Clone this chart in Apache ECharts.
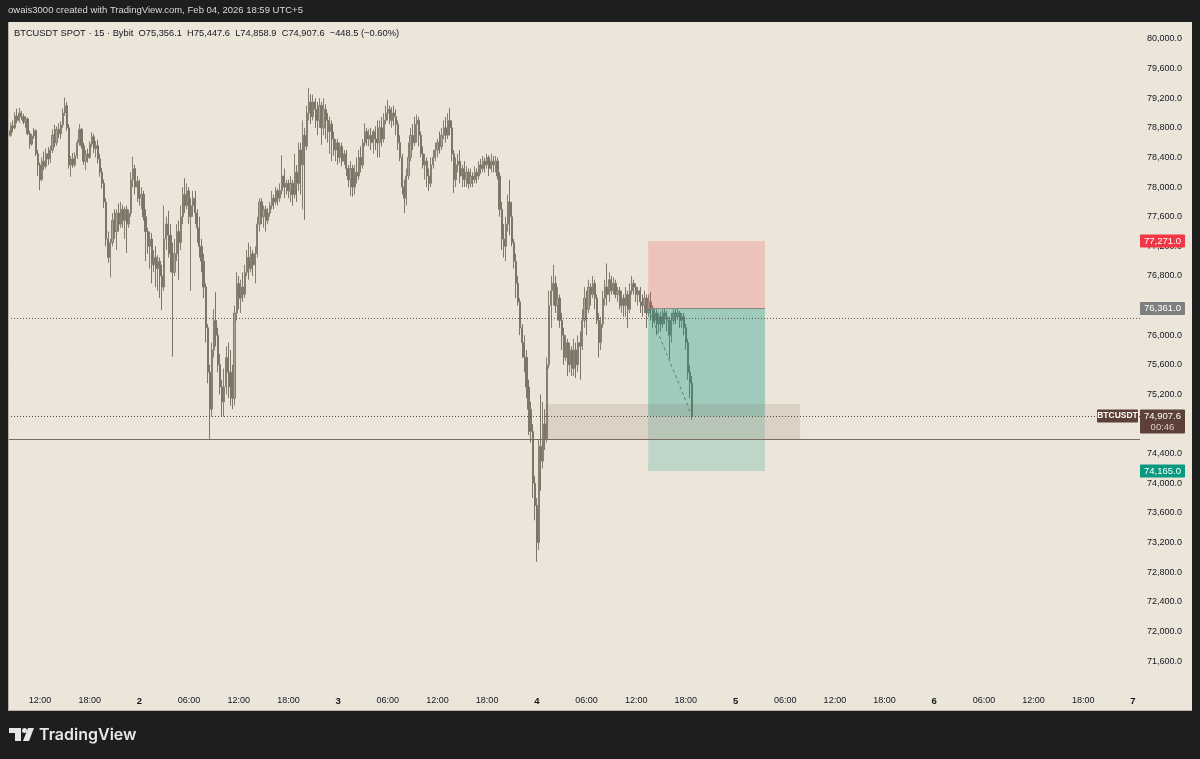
<!DOCTYPE html>
<html><head><meta charset="utf-8">
<script src="https://cdn.jsdelivr.net/npm/echarts@6/dist/echarts.min.js"></script>
<style>html,body{margin:0;padding:0;background:#1e1e1e;}#c{width:1200px;height:759px;}</style>
</head><body><div id="c"></div>
<script>
// ---------- data ----------
const headerText = 'owais3000 created with TradingView.com, Feb 04, 2026 18:59 UTC+5';
const symbolText = 'BTCUSDT SPOT · 15 · Bybit';
const firstBarHour = 8.25;   // hours since Feb 1 00:00 (UTC+5)
const barHours = 0.25;       // 15-minute candles
// [open, close, low, high]
const ohlc = [
[78760,78700,78640,78800],[78700,78830,78680,78870],[78830,78800,78740,78900],[78800,78960,78780,79010],
[78960,78900,78860,79060],[78900,79000,78870,79070],[79000,78950,78910,79030],[78950,78880,78850,78990],
[78880,78920,78800,78960],[78920,78720,78700,78940],[78720,78580,78520,78760],[78580,78690,78560,78720],
[78690,78760,78650,78800],[78760,78450,78420,78780],[78450,78300,78150,78500],[78300,78100,77960,78330],
[78100,78350,78080,78400],[78350,78280,78230,78480],[78280,78450,78250,78520],[78450,78380,78300,78540],
[78380,78500,78330,78560],[78500,78700,78460,78780],[78700,78600,78540,78840],[78600,78780,78560,78820],
[78780,78720,78660,78860],[78720,78840,78650,78890],[78840,79000,78800,79060],[79000,79100,78960,79210],
[79100,78800,78760,79150],[78800,78300,78250,78850],[78300,78380,78140,78420],[78380,78300,78260,78460],
[78300,78420,78270,78470],[78420,78600,78380,78640],[78600,78780,78560,78850],[78780,78560,78520,78800],
[78560,78350,78300,78600],[78350,78450,78230,78500],[78450,78400,78330,78520],[78400,78580,78380,78620],
[78580,78680,78540,78740],[78680,78520,78460,78720],[78520,78560,78400,78620],[78560,78380,78320,78640],
[78380,78200,78140,78450],[78200,78050,77980,78260],[78050,77800,77720,78100],[77800,77300,77200,77850],
[77300,77050,76980,77400],[77050,77250,76780,77300],[77250,77550,77200,77650],[77550,77400,77300,77700],
[77400,77650,77150,77700],[77650,77500,77400,77780],[77500,77700,77450,77800],[77700,77550,77450,77760],
[77550,77700,77300,77730],[77700,77500,77110,77750],[77500,77650,77450,77700],[77650,78100,77600,78200],
[78100,78250,78000,78410],[78250,78000,77900,78300],[78000,78080,77800,78150],[78080,77850,77750,78100],
[77850,77900,77700,78000],[77900,77600,77550,77950],[77600,77400,77000,77700],[77400,77200,77100,77450],
[77200,77300,76900,77400],[77300,76950,76700,77380],[76950,77050,76850,77150],[77050,76900,76650,77200],
[76900,77000,76600,77080],[77000,76800,76500,77050],[76800,76650,76340,76950],[76650,77300,76600,77750],
[77300,77500,77150,77600],[77500,77350,77050,77680],[77350,77100,76850,77500],[77100,76850,75710,77250],
[76850,77100,76800,77300],[77100,77400,77000,77500],[77400,77250,76750,77550],[77250,77600,77150,77750],
[77600,77900,77500,78000],[77900,77750,77650,78120],[77750,77950,77700,78050],[77950,77600,77500,78000],
[77600,77750,76600,77850],[77750,77850,77600,77950],[77850,77650,77500,77950],[77650,77450,77250,77700],
[77450,77200,77050,77600],[77200,77000,76850,77300],[77000,76650,76500,77100],[76650,76100,75900,76700],
[76100,75500,75350,76150],[75500,75000,74600,75600],[75000,75800,74900,75900],[75800,76200,75700,76350],
[76200,76000,75850,76580],[76000,75600,75500,76100],[75600,75300,75200,75750],[75300,75100,74900,75400],
[75100,75300,74900,75550],[75300,75700,75200,75850],[75700,75500,75150,75900],[75500,75300,75050,75800],
[75300,75150,75000,75600],[75150,76300,75050,76400],[76300,76700,76200,76850],[76700,76500,76350,76800],
[76500,76650,76300,76750],[76650,76550,76450,76850],[76550,76850,76500,76950],[76850,77050,76800,77150],
[77050,76900,76750,77250],[76900,77100,76850,77200],[77100,76950,76800,77150],[76950,77100,76700,77200],
[77100,77500,77050,77600],[77500,77800,77400,77850],[77800,77600,77500,77850],[77600,77700,77450,77750],
[77700,77550,77400,77750],[77550,77650,77500,77720],[77650,77750,77600,77800],[77750,77850,77700,77950],
[77850,77800,77700,77900],[77800,77950,77760,78000],[77950,77850,77750,77980],[77850,77950,77800,78050],
[77950,78150,77900,78430],[78150,78000,77850,78250],[78000,78050,77900,78100],[78050,77950,77850,78100],
[77950,78050,77800,78150],[78050,77900,77750,78100],[77900,78200,77850,78450],[78200,78050,77800,78300],
[78050,78500,77950,78600],[78500,78300,77900,78600],[78300,78700,77700,78900],[78700,78550,77560,78800],
[78550,79000,78500,79100],[79000,79150,78900,79340],[79150,78950,78850,79250],[78950,79150,78900,79250],
[79150,79050,78800,79200],[79050,78900,78700,79150],[78900,79100,78800,79200],[79100,78800,78570,79150],
[78800,79050,78700,79200],[79050,78900,78650,79120],[78900,78750,78600,79000],[78750,78850,78450,78950],
[78850,78650,78350,78900],[78650,78500,78420,78750],[78500,78600,78350,78650],[78600,78400,78300,78650],
[78400,78550,78330,78600],[78550,78350,78280,78600],[78350,78450,78300,78500],[78450,78250,78150,78500],
[78250,78100,78000,78300],[78100,78250,77880,78350],[78250,78000,77870,78300],[78000,78200,77900,78300],
[78200,78150,78050,78400],[78150,78400,78100,78500],[78400,78300,78200,78550],[78300,78600,78250,78650],
[78600,78750,78550,78860],[78750,78650,78560,78800],[78650,78700,78550,78780],[78700,78600,78500,78800],
[78600,78750,78450,78780],[78750,78650,78500,78820],[78650,78600,78400,78900],[78600,78800,78400,78900],
[78800,78650,78550,78950],[78650,78900,78600,79000],[78900,79000,78850,79100],[79000,79050,78900,79180],
[79050,78900,78850,79100],[78900,79000,78800,79080],[79000,78950,78830,79100],[78950,78850,78700,79050],
[78850,78600,78500,78900],[78600,78400,78350,78700],[78400,78000,77900,78450],[78000,77850,77650,78100],
[77850,78150,77750,78250],[78150,78400,78100,78600],[78400,78700,78350,78800],[78700,78600,78500,78850],
[78600,78850,78550,78950],[78850,78900,78600,78980],[78900,78700,78550,78950],[78700,78450,78400,78750],
[78450,78300,78250,78550],[78300,78350,78100,78450],[78350,78150,78000,78400],[78150,78050,77950,78250],
[78050,78300,78000,78400],[78300,78400,78250,78500],[78400,78500,78350,78600],[78500,78600,78400,78650],
[78600,78550,78450,78750],[78550,78700,78500,78800],[78700,78800,78650,78900],[78800,78700,78600,78950],
[78700,78900,78650,79000],[78900,78800,78700,79070],[78800,78450,78350,78900],[78450,78100,77920,78500],
[78100,78300,78000,78400],[78300,78350,78200,78450],[78350,78150,78050,78500],[78150,78250,78000,78300],
[78250,78100,78000,78350],[78100,78200,78000,78280],[78200,78050,77980,78250],[78050,78150,78000,78250],
[78150,78100,78000,78200],[78100,78200,78050,78280],[78200,78150,78050,78250],[78150,78300,78100,78350],
[78300,78250,78180,78380],[78250,78350,78200,78420],[78350,78300,78200,78400],[78300,78400,78250,78450],
[78400,78250,78150,78430],[78250,78350,78200,78450],[78350,78300,78200,78420],[78300,78350,78200,78420],
[78350,78150,78100,78400],[78150,77700,77600,78200],[77700,77300,77150,77800],[77300,77200,77050,77500],
[77200,77500,77000,77600],[77500,77800,77400,77900],[77800,77600,77350,78100],[77600,77250,77200,77800],
[77250,77000,76900,77300],[77000,76700,76500,77100],[76700,76450,76400,76800],[76450,76100,76000,76500],
[76100,75900,75700,76150],[75900,75700,75500,76000],[75700,75300,75150,75800],[75300,75000,74650,75400],
[75000,74700,74550,75100],[74700,74000,73800,74800],[74000,73700,73500,74100],[73700,73200,72940,73800],
[73200,74500,73100,74600],[74500,74300,73900,75200],[74300,74800,74200,75100],[74800,74600,74450,75000],
[74600,75600,74550,75700],[75600,76400,75550,76600],[76400,76600,76100,76800],[76600,76700,76400,76950],
[76700,76400,76300,76800],[76400,76500,76200,76650],[76500,76200,76100,76550],[76200,76000,75800,76300],
[76000,75700,75600,76100],[75700,75900,75650,76000],[75900,75600,75450,75950],[75600,75800,75500,75900],
[75800,75550,75450,75850],[75550,75800,75450,75950],[75800,75600,75420,75900],[75600,75900,75500,76000],
[75900,75850,75400,76050],[75850,76200,75800,76350],[76200,76500,76100,76650],[76500,76350,76000,76600],
[76350,76650,76300,76750],[76650,76550,76400,76700],[76550,76700,76500,76800],[76700,76500,76350,76750],
[76500,76200,76150,76550],[76200,75900,75700,76300],[75900,76150,75800,76250],[76150,76500,76100,76600],
[76500,76650,76400,76750],[76650,76550,76400,76970],[76550,76750,76450,76850],[76750,76600,76550,76800],
[76600,76700,76550,76780],[76700,76550,76500,76750],[76550,76600,76450,76650],[76600,76400,76350,76650],
[76400,76500,76300,76600],[76500,76400,76250,76550],[76400,76550,76250,76650],[76550,76350,76100,76600],
[76350,76600,76300,76700],[76600,76700,76550,76800],[76700,76650,76550,76750],[76650,76550,76450,76700],
[76550,76600,76400,76650],[76600,76450,76300,76650],[76450,76400,76250,76550],[76400,76500,76300,76600],
[76500,76300,76100,76550],[76300,76450,76250,76550],[76450,76350,76200,76580],[76350,76200,76100,76400],
[76200,76300,76150,76350],[76300,76150,76000,76350],[76150,76250,76050,76300],[76250,76150,76050,76320],
[76150,76300,76100,76350],[76300,76250,76150,76360],[76250,76200,76050,76330],[76200,76000,75680,76250],
[76000,76200,75900,76300],[76200,76300,76150,76350],[76300,76250,76150,76350],[76250,76300,76200,76360],
[76300,76200,76100,76330],[76200,76250,76100,76300],[76250,76100,76000,76300],[76100,75900,75800,76150],
[75900,75500,75400,75950],[75500,75356.1,75150,75600],[75356.1,74907.6,74858.9,75447.6]
];
const xTickHours = [12,18,24,30,36,42,48,54,60,66,72,78,84,90,96,102,108,114,120,126,132,138,144];
const yTicks = [71600,72000,72400,72800,73200,73600,74000,74400,74800,75200,75600,76000,76400,76800,77200,77600,78000,78400,78800,79200,79600,80000];
const viewHours = [8.135, 144.85];
const viewPrices = [71209, 80229.6];
// short position drawing
const stopPrice = 77271.0, entryPrice = 76361.0, targetPrice = 74165.0;
const positionHours = [85.45, 99.55];
const lastPrice = 74907.6;
const lastCountdown = '00:46';
// other drawings
const dottedLevel = 76230;
const solidLevel = 74600;
const zoneHours = [73, 103.8];
const zonePrices = [75070, 74600];

// ---------- chart ----------
const FONT = '"Liberation Sans", Arial, sans-serif';
const TXT = '#131722';
const fmtPrice = v => v.toLocaleString('en-US', {minimumFractionDigits: 1, maximumFractionDigits: 1});
const hourLabel = h => (h % 24 === 0) ? '{d|' + (1 + h / 24) + '}' : String(h % 24).padStart(2, '0') + ':00';
const candleData = ohlc.map((d, i) => [firstBarHour + i * barHours, d[0], d[1], d[2], d[3]]);

const chart = echarts.init(document.getElementById('c'), null, {renderer: 'canvas', width: 1200, height: 759});
chart.setOption({
  animation: false,
  backgroundColor: '#ece5d9',
  grid: {left: 8, right: 60, top: 22, bottom: 69},
  xAxis: {
    type: 'value', min: viewHours[0], max: viewHours[1],
    axisLine: {show: false}, axisTick: {show: false}, splitLine: {show: false},
    axisLabel: {customValues: xTickHours, formatter: hourLabel, color: TXT, fontSize: 9, fontFamily: FONT, margin: 6,
      rich: {d: {fontWeight: 'bold', fontSize: 9.5, color: TXT, fontFamily: FONT}}}
  },
  yAxis: {
    type: 'value', position: 'right', min: viewPrices[0], max: viewPrices[1], scale: true,
    axisLine: {show: false}, axisTick: {show: false}, splitLine: {show: false},
    axisLabel: {customValues: yTicks, formatter: fmtPrice, color: TXT, fontSize: 9, fontFamily: FONT, margin: 7}
  },
  series: [{
    type: 'candlestick',
    data: candleData,
    encode: {x: 0, y: [1, 2, 3, 4]},
    barWidth: 1.7,
    clip: true,
    itemStyle: {color: '#aaa396', color0: '#7c7568', borderColor: '#877f72', borderColor0: '#7c7568', borderWidth: 1},
    markArea: {
      silent: true, z: 5,
      data: [
        [{xAxis: positionHours[0], yAxis: stopPrice, itemStyle: {color: 'rgba(242,54,69,0.2)'}}, {xAxis: positionHours[1], yAxis: entryPrice}],
        [{xAxis: positionHours[0], yAxis: entryPrice, itemStyle: {color: 'rgba(8,153,129,0.34)'}}, {xAxis: positionHours[1], yAxis: lastPrice}],
        [{xAxis: positionHours[0], yAxis: lastPrice, itemStyle: {color: 'rgba(8,153,129,0.2)'}}, {xAxis: positionHours[1], yAxis: targetPrice}],
        [{xAxis: zoneHours[0], yAxis: zonePrices[0], itemStyle: {color: 'rgba(140,110,100,0.17)'}}, {xAxis: zoneHours[1], yAxis: zonePrices[1]}]
      ]
    },
    markLine: {
      silent: true, z: 6, symbol: ['none', 'none'], label: {show: false},
      data: [
        {yAxis: dottedLevel, lineStyle: {color: '#5f5a52', type: [1, 2], width: 1}},
        {yAxis: lastPrice, lineStyle: {color: '#5d4a41', type: [1, 2], width: 1}},
        {yAxis: solidLevel, lineStyle: {color: '#7b6c62', type: 'solid', width: 1}},
        [{coord: [positionHours[0], entryPrice], lineStyle: {color: '#8a8a84', type: 'solid', width: 1}}, {coord: [positionHours[1], entryPrice]}],
        [{coord: [positionHours[0], entryPrice], lineStyle: {color: '#5f7f72', type: [3, 3], width: 1}}, {coord: [firstBarHour + (ohlc.length - 1) * barHours, lastPrice]}]
      ]
    }
  }]
});

// ---------- overlays (positions from the chart's own scales) ----------
const py = p => chart.convertToPixel({yAxisIndex: 0}, p);
const last = ohlc[ohlc.length - 1], prev = ohlc[ohlc.length - 2];
const chg = last[1] - prev[1];
const legend = symbolText + '  O' + fmtPrice(last[0]) + '  H' + fmtPrice(last[3]) + '  L' + fmtPrice(last[2]) + '  C' + fmtPrice(last[1]) +
  '  \u2212' + fmtPrice(Math.abs(chg)) + ' (\u2212' + (Math.abs(chg) / prev[1] * 100).toFixed(2) + '%)';

function tag(price, fill, lines, x, w, font) {
  const y = py(price);
  const h = lines.length > 1 ? 24 : 13;
  const els = [{type: 'rect', z: 110, shape: {x: x, y: y - 6.5, width: w, height: h, r: 1}, style: {fill: fill}}];
  lines.forEach((t, i) => els.push({type: 'text', z: 111, x: x + w / 2, y: y + i * 11,
    style: {text: t, fill: i ? '#d8cfc8' : '#ffffff', font: (font || '9.5px ') + FONT, textAlign: 'center', textVerticalAlign: 'middle'}}));
  return els;
}

const dark = '#1e1e1e';
const els = [
  {type: 'rect', z: 100, shape: {x: 0, y: 0, width: 1200, height: 22}, style: {fill: dark}},
  {type: 'rect', z: 100, shape: {x: 0, y: 711, width: 1200, height: 48}, style: {fill: dark}},
  {type: 'rect', z: 100, shape: {x: 0, y: 0, width: 8, height: 759}, style: {fill: dark}},
  {type: 'rect', z: 100, shape: {x: 1192, y: 0, width: 8, height: 759}, style: {fill: dark}},
  {type: 'line', z: 101, shape: {x1: 8, y1: 710.5, x2: 1192, y2: 710.5}, style: {stroke: '#b9b2a6', lineWidth: 1}},
  {type: 'line', z: 101, shape: {x1: 8.5, y1: 22, x2: 8.5, y2: 711}, style: {stroke: '#b9b2a6', lineWidth: 1}},
  {type: 'text', z: 101, x: 8, y: 10, style: {text: headerText, fill: '#d9d9d9', font: '9.5px ' + FONT, textVerticalAlign: 'middle'}},
  {type: 'text', z: 101, x: 14, y: 33, style: {text: legend, fill: TXT, font: '9.3px ' + FONT, textVerticalAlign: 'middle'}},
  // TradingView logo
  {type: 'rect', z: 101, shape: {x: 9, y: 728, width: 12, height: 5}, style: {fill: '#e6e6e6'}},
  {type: 'rect', z: 101, shape: {x: 15, y: 728, width: 6, height: 13}, style: {fill: '#e6e6e6'}},
  {type: 'circle', z: 101, shape: {cx: 24.5, cy: 730.5, r: 2.5}, style: {fill: '#e6e6e6'}},
  {type: 'polygon', z: 101, shape: {points: [[28, 728], [34, 728], [29, 741], [23, 741]]}, style: {fill: '#e6e6e6'}},
  {type: 'text', z: 101, x: 39, y: 735, style: {text: 'TradingView', fill: '#e6e6e6', font: '600 16px Inter, "Noto Sans", sans-serif', textVerticalAlign: 'middle'}}
]
.concat(tag(stopPrice, '#f23645', [fmtPrice(stopPrice)], 1140, 45))
.concat(tag(entryPrice, '#7f7f7f', [fmtPrice(entryPrice)], 1140, 45))
.concat(tag(targetPrice, '#089981', [fmtPrice(targetPrice)], 1140, 45))
.concat(tag(lastPrice, '#5d4037', [fmtPrice(lastPrice), lastCountdown], 1140, 45))
.concat(tag(lastPrice, '#5d4037', ['BTCUSDT'], 1097, 41, '600 8.5px '));
chart.setOption({graphic: {elements: els}});
</script></body></html>
